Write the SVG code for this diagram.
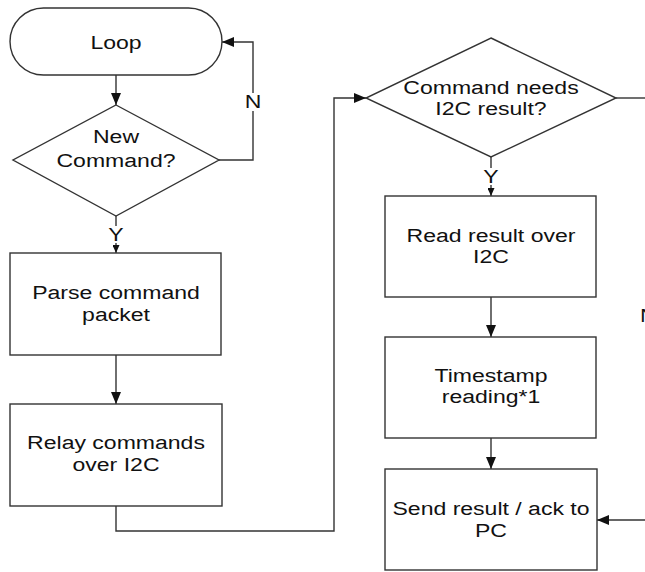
<svg xmlns="http://www.w3.org/2000/svg" width="645" height="572" viewBox="0 0 645 572">
<style>
.s{fill:#fff;stroke:#333;stroke-width:1.4}
.c{fill:none;stroke:#333;stroke-width:1.4}
.t{font-family:"Liberation Sans",Arial,sans-serif;font-size:18px;fill:#111;text-anchor:middle}
.ts{font-family:"Liberation Sans",Arial,sans-serif;font-size:18px;fill:#111}
</style>
<defs>
<marker id="a" markerWidth="12" markerHeight="10" refX="12" refY="5" orient="auto" markerUnits="userSpaceOnUse"><path d="M0,0 L12,5 L0,10 Z" fill="#111"/></marker>
<marker id="b" markerWidth="8" markerHeight="7" refX="8" refY="3.5" orient="auto" markerUnits="userSpaceOnUse"><path d="M0,0 L8,3.5 L0,7 Z" fill="#111"/></marker>
</defs>
<g id="connectors">
<path class="c" d="M116,75 V105" marker-end="url(#a)"/>
<path class="c" d="M219,160 H253 V42 H222" marker-end="url(#a)"/>
<path class="c" d="M116,216 V253" marker-end="url(#b)"/>
<path class="c" d="M116,355 V404" marker-end="url(#a)"/>
<path class="c" d="M116,506 V531 H334 V98 H366" marker-end="url(#a)"/>
<path class="c" d="M616,98 H645"/>
<path class="c" d="M491,157 V196" marker-end="url(#b)"/>
<path class="c" d="M491,297 V337" marker-end="url(#a)"/>
<path class="c" d="M491,438 V469" marker-end="url(#a)"/>
<path class="c" d="M645,520 H597" marker-end="url(#a)"/>
<rect x="245" y="93" width="16" height="18" fill="#fff"/>
<text class="t" transform="translate(253,108) scale(1.28,1)">N</text>
<rect x="108" y="226" width="16" height="17" fill="#fff"/>
<text class="t" transform="translate(116,241) scale(1.28,1)">Y</text>
<rect x="483" y="168" width="16" height="17" fill="#fff"/>
<text class="t" transform="translate(491,183) scale(1.28,1)">Y</text>
<text class="ts" transform="translate(640,322) scale(1.28,1)">N</text>
</g>
<g id="loop">
<rect class="s" x="10" y="8" width="212" height="67" rx="33.5"/>
<text class="t" transform="translate(116,49) scale(1.28,1)">Loop</text>
</g>
<g id="new-command">
<polygon class="s" points="116,105 219,160 116,216 13,160"/>
<text class="t" transform="translate(116,143) scale(1.28,1)">New</text>
<text class="t" transform="translate(116,167) scale(1.28,1)">Command?</text>
</g>
<g id="parse">
<rect class="s" x="10" y="253" width="211" height="102"/>
<text class="t" transform="translate(116,299) scale(1.28,1)">Parse command</text>
<text class="t" transform="translate(116,321) scale(1.28,1)">packet</text>
</g>
<g id="relay">
<rect class="s" x="10" y="404" width="212" height="102"/>
<text class="t" transform="translate(116,449) scale(1.28,1)">Relay commands</text>
<text class="t" transform="translate(116,471) scale(1.28,1)">over I2C</text>
</g>
<g id="needs-result">
<polygon class="s" points="491,38 616,98 491,157 366,98"/>
<text class="t" transform="translate(491,94) scale(1.28,1)">Command needs</text>
<text class="t" transform="translate(491,115) scale(1.28,1)">I2C result?</text>
</g>
<g id="read">
<rect class="s" x="385" y="196" width="211" height="101"/>
<text class="t" transform="translate(491,242) scale(1.28,1)">Read result over</text>
<text class="t" transform="translate(491,263) scale(1.28,1)">I2C</text>
</g>
<g id="timestamp">
<rect class="s" x="385" y="337" width="211" height="101"/>
<text class="t" transform="translate(491,382) scale(1.28,1)">Timestamp</text>
<text class="t" transform="translate(491,403) scale(1.28,1)">reading*1</text>
</g>
<g id="send">
<rect class="s" x="385" y="469" width="212" height="101"/>
<text class="t" transform="translate(491,515) scale(1.28,1)">Send result / ack to</text>
<text class="t" transform="translate(491,537) scale(1.28,1)">PC</text>
</g>
</svg>
